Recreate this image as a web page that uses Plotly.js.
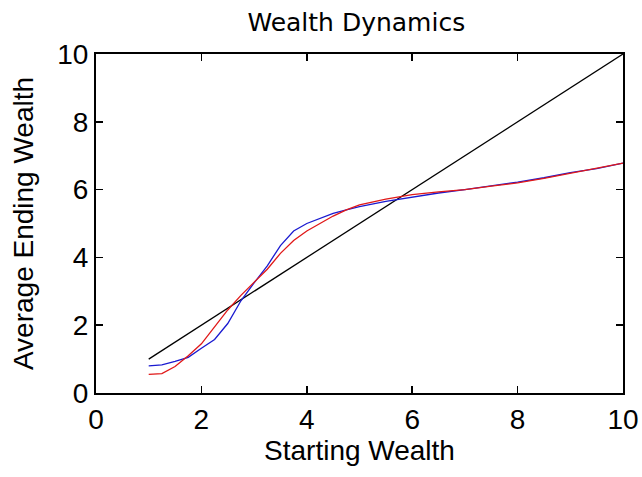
<!DOCTYPE html>
<html>
<head>
<meta charset="utf-8">
<script src="https://cdn.plot.ly/plotly-3.0.1.min.js"></script>
<style>html,body{margin:0;padding:0;background:#fff;}#chart{width:642px;height:477px;}</style>
</head>
<body>
<div id="chart"></div>
<script>
const startWealth = [1.0,1.25,1.5,1.75,2.0,2.25,2.5,2.75,3.0,3.25,3.5,3.75,4.0,4.25,4.5,4.75,5.0,5.5,6.0,6.5,7.0,7.5,8.0,8.5,9.0,9.5,10.0];
const blueEnding = [0.80,0.83,0.93,1.05,1.32,1.58,2.05,2.72,3.25,3.75,4.35,4.78,5.00,5.15,5.30,5.40,5.50,5.65,5.78,5.90,6.00,6.10,6.22,6.35,6.50,6.62,6.78];
const redEnding = [0.55,0.57,0.78,1.10,1.45,1.95,2.45,2.88,3.25,3.65,4.12,4.50,4.78,5.00,5.22,5.40,5.55,5.72,5.85,5.93,6.00,6.10,6.20,6.33,6.48,6.62,6.78];
const diagX = [1, 10];
const diagY = [1, 10];
const xTicks = [0,2,4,6,8,10];
const yTicks = [0,2,4,6,8,10];

const traces = [
  {x: diagX, y: diagY, mode: 'lines', line: {color: '#000000', width: 1.3}, showlegend: false},
  {x: startWealth, y: blueEnding, mode: 'lines', line: {color: '#1a1ad0', width: 1.3}, showlegend: false},
  {x: startWealth, y: redEnding, mode: 'lines', line: {color: '#e01818', width: 1.3}, showlegend: false}
];

const axisFont = {family: 'Liberation Sans, Arial, sans-serif', size: 28, color: '#000'};
const layout = {
  width: 642, height: 477,
  margin: {l: 96, r: 19, t: 54, b: 84},
  paper_bgcolor: '#fff', plot_bgcolor: '#fff',
  showlegend: false,
  title: {text: 'Wealth Dynamics', font: {family: 'DejaVu Sans, sans-serif', size: 25, color: '#000'}, x: 0.555, xanchor: 'center', y: 0.953, yanchor: 'middle'},
  xaxis: {
    range: [0, 10], tickvals: xTicks, ticktext: xTicks.map(String),
    ticks: 'inside', ticklen: 7, tickwidth: 1.5, tickcolor: '#000',
    showline: true, linecolor: '#000', linewidth: 2, mirror: 'ticks',
    showgrid: false, zeroline: false,
    tickfont: axisFont,
    title: {text: 'Starting Wealth', font: axisFont, standoff: 6}
  },
  yaxis: {
    range: [0, 10], tickvals: yTicks, ticktext: yTicks.map(String),
    ticks: 'inside', ticklen: 7, tickwidth: 1.5, tickcolor: '#000',
    showline: true, linecolor: '#000', linewidth: 2, mirror: 'ticks',
    showgrid: false, zeroline: false,
    tickfont: axisFont,
    title: {text: 'Average Ending Wealth', font: axisFont, standoff: 15}
  }
};
Plotly.newPlot('chart', traces, layout, {displayModeBar: false, staticPlot: true});
</script>
</body>
</html>
